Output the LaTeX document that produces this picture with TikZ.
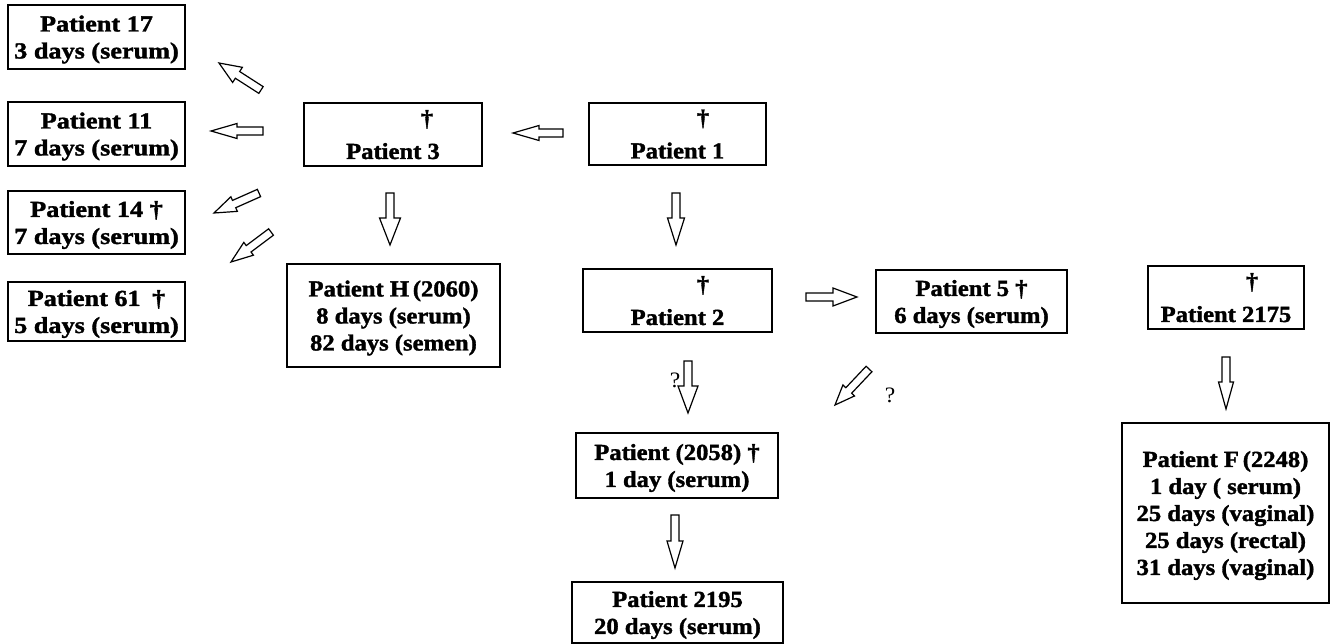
\documentclass[tikz,border=0pt]{standalone}
\usepackage{fontspec}
\setmainfont{Liberation Serif}[FakeStretch=1.07, BoldFeatures={FakeBold=1.5}]
\newfontfamily\wideserif{Liberation Serif}[FakeStretch=1.14, BoldFeatures={FakeBold=1.5}]
\usetikzlibrary{calc}
\tikzset{
  box/.style={draw, line width=1.6pt, inner sep=0pt, align=center, text depth=0pt,
    font=\fontsize{23}{27}\selectfont\bfseries},
  lbox/.style={box, font=\wideserif\fontsize{23}{27}\selectfont\bfseries,
    minimum width=177pt, minimum height=64pt},
  barr/.style={draw, line width=1.2pt, fill=white, line join=miter},
  qmark/.style={font=\fontsize{22}{22}\selectfont, inner sep=0pt}
}
\newcommand\barrow[4]{% start, end, head half width, head length
  \coordinate (bn) at ($(#2)!#4!(#1)$);
  \draw[barr] ($(#1)!4pt!90:(#2)$) -- ($(bn)!4pt!90:(#2)$) -- ($(bn)!#3!90:(#2)$)
    -- (#2) -- ($(bn)!#3!-90:(#2)$) -- ($(bn)!4pt!-90:(#2)$) -- ($(#1)!4pt!-90:(#2)$) -- cycle;}
\begin{document}
\begin{tikzpicture}[x=1pt,y=-1pt]
\useasboundingbox (0,0) rectangle (1330,644);
% boxes
\node[lbox] (p17) at (96.5,37) {Patient 17\\3 days (serum)};
\node[lbox] (p11) at (96.5,134) {Patient 11\\7 days (serum)};
\node[lbox, minimum height=63pt] (p14) at (96.5,222.5) {Patient 14 †\\7 days (serum)};
\node[lbox, minimum height=59pt] (p61) at (96.5,311.5) {Patient 61\enspace†\\5 days (serum)};
\node[box, minimum width=178pt, minimum height=63pt] (p3) at (393,134.5) {\hspace*{68pt}†\\[6pt]Patient 3};
\node[box, minimum width=177pt, minimum height=62pt] (p1) at (677.5,134) {\hspace*{51pt}†\\[6pt]Patient 1};
\node[box, minimum width=213pt, minimum height=103pt] (ph) at (393.5,315.5) {Patient H\,(2060)\\8 days (serum)\\82 days (semen)};
\node[box, minimum width=189pt, minimum height=63pt] (p2) at (677.5,300.5) {\hspace*{51pt}†\\[6pt]Patient 2};
\node[box, minimum width=191pt, minimum height=63pt] (p5) at (971.5,301.5) {Patient 5 †\\6 days (serum)};
\node[box, minimum width=156pt, minimum height=63pt] (p2175) at (1226,297.5) {\hspace*{52pt}†\\[6pt]Patient 2175};
\node[box, minimum width=202pt, minimum height=65pt] (p2058) at (677,465.5) {Patient (2058) †\\1 day (serum)};
\node[box, minimum width=211pt, minimum height=61pt] (p2195) at (677.5,612.5) {Patient 2195\\20 days (serum)};
\node[box, minimum width=207pt, minimum height=180pt, text depth=-4pt] (pf) at (1225.5,513) {Patient F\,(2248)\\1 day ( serum)\\25 days (vaginal)\\25 days (rectal)\\31 days (vaginal)};
% arrow end points
\coordinate (a1s) at (261,90);   \coordinate (a1e) at (219,63);
\coordinate (a2s) at (263,131);  \coordinate (a2e) at (211,131);
\coordinate (a3s) at (259,193);  \coordinate (a3e) at (214,213);
\coordinate (a4s) at (271,232);  \coordinate (a4e) at (231,262);
\coordinate (a5s) at (563,133);  \coordinate (a5e) at (513,133);
\coordinate (a6s) at (390,193);  \coordinate (a6e) at (390,245);
\coordinate (a7s) at (676,193);  \coordinate (a7e) at (676,245);
\coordinate (a8s) at (806,297);  \coordinate (a8e) at (857,297);
\coordinate (a9s) at (688,361);  \coordinate (a9e) at (688,413);
\coordinate (a10s) at (869,369); \coordinate (a10e) at (835,405);
\coordinate (a11s) at (675,515); \coordinate (a11e) at (675,568);
\coordinate (a12s) at (1226,357); \coordinate (a12e) at (1226,409);
% arrows
\barrow{a1s}{a1e}{9pt}{22pt}
\barrow{a2s}{a2e}{7.5pt}{26pt}
\barrow{a3s}{a3e}{8pt}{22pt}
\barrow{a4s}{a4e}{8pt}{22pt}
\barrow{a5s}{a5e}{7.5pt}{26pt}
\barrow{a6s}{a6e}{10.5pt}{27pt}
\barrow{a7s}{a7e}{8.5pt}{27pt}
\barrow{a8s}{a8e}{9pt}{24pt}
\barrow{a9s}{a9e}{10pt}{27pt}
\barrow{a10s}{a10e}{8pt}{20pt}
\barrow{a11s}{a11e}{8pt}{27pt}
\barrow{a12s}{a12e}{7.5pt}{27pt}
% question marks
\node[qmark] (q1) at (675,380) {?};
\node[qmark] (q2) at (890,395) {?};
\end{tikzpicture}
\end{document}
